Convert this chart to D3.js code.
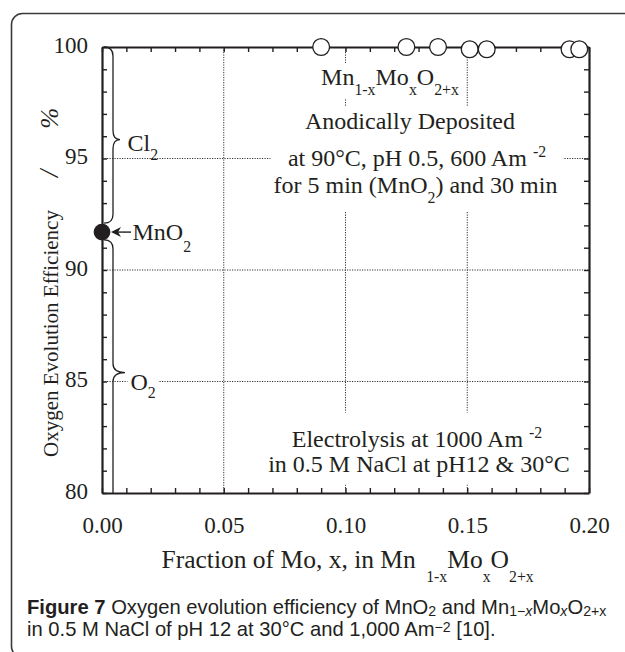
<!DOCTYPE html>
<html>
<head>
<meta charset="utf-8">
<script src="https://cdn.jsdelivr.net/npm/d3@7"></script>
<style>
  html, body { margin: 0; padding: 0; background: #fff; }
  svg { display: block; }
  text { fill: #231f20; }
</style>
</head>
<body>
<svg id="chart" width="625" height="652"></svg>
<script>
// Mn(1-x)Mo(x)O(2+x) anodically deposited electrodes
const moFraction   = [0.090, 0.125, 0.138, 0.151, 0.158, 0.192, 0.196];
const moEfficiency = [100.0, 100.0, 100.0, 99.9, 99.9, 99.9, 99.9];
// plain MnO2 electrode
const mnO2Fraction   = [0.000];
const mnO2Efficiency = [91.7];

// axis ticks
const xMajorTicks  = [0.00, 0.05, 0.10, 0.15, 0.20];
const xTickLabels  = ["0.00", "0.05", "0.10", "0.15", "0.20"];
const yMajorTicks  = [80, 85, 90, 95, 100];
const yTickLabels  = ["80", "85", "90", "95", "100"];
const xGridLines   = [0.05, 0.10, 0.15];
const yGridLines   = [85, 90, 95];

const SERIF = '"Liberation Serif", "Times New Roman", serif';
const SANS  = '"Liberation Sans", Arial, sans-serif';
const INK = "#231f20";

const svg = d3.select("#chart");

const plot = { left: 102, right: 589, top: 47, bottom: 493 };
const x = d3.scaleLinear().domain([0, 0.2]).range([plot.left, plot.right]);
const y = d3.scaleLinear().domain([80, 100]).range([plot.bottom, plot.top]);

// outer rounded frame of the figure panel
svg.append("rect")
  .attr("x", 11.5).attr("y", 13.5)
  .attr("width", 720).attr("height", 644)
  .attr("rx", 11).attr("ry", 11)
  .attr("fill", "none").attr("stroke", "#3a3a3a").attr("stroke-width", 1.6);

// rich text helper: parts = [{t, size, shift, weight, style, dx}]
function rich(sel, parts, base) {
  let prev = 0;
  parts.forEach(p => {
    const shift = (p.shift || 0);
    const ts = sel.append("tspan")
      .text(p.t)
      .attr("font-size", base * (p.size || 1))
      .attr("dy", shift - prev);
    if (p.weight) ts.attr("font-weight", p.weight);
    if (p.style) ts.attr("font-style", p.style);
    if (p.dx) ts.attr("dx", p.dx);
    prev = shift;
  });
  return sel;
}

// dotted grid
const grid = svg.append("g")
  .attr("stroke", "#333").attr("stroke-width", 1)
  .attr("stroke-dasharray", "1.2,1.3").attr("fill", "none");
grid.selectAll("line.gx").data(xGridLines).join("line")
  .attr("x1", d => x(d)).attr("x2", d => x(d))
  .attr("y1", plot.top).attr("y2", plot.bottom);
grid.selectAll("line.gy").data(yGridLines).join("line")
  .attr("y1", d => y(d)).attr("y2", d => y(d))
  .attr("x1", plot.left).attr("x2", plot.right);

// annotation layer (white boxes knock out the grid behind the text)
const ann = svg.append("g").attr("font-family", SERIF).attr("fill", INK);

function boxed(buildFn, pad) {
  const g = ann.append("g");
  const bg = g.append("rect").attr("fill", "#fff");
  const t = g.append("g");
  buildFn(t);
  const bb = t.node().getBBox();
  bg.attr("x", bb.x - pad[3]).attr("y", bb.y - pad[0])
    .attr("width", bb.width + pad[1] + pad[3])
    .attr("height", bb.height + pad[0] + pad[2]);
  return g;
}

const F = 24, S = 0.66;

boxed(t => {
  rich(t.append("text").attr("x", 390).attr("y", 85).attr("text-anchor", "middle"), [
    { t: "Mn" }, { t: "1-x", size: S, shift: 10 },
    { t: "Mo" }, { t: "x", size: S, shift: 10 },
    { t: "O" }, { t: "2+x", size: S, shift: 10 }
  ], F);
}, [1, 4, 1, 4]);

boxed(t => {
  t.append("text").attr("x", 410).attr("y", 128.5).attr("text-anchor", "middle")
    .attr("font-size", F).text("Anodically Deposited");
  rich(t.append("text").attr("x", 417).attr("y", 165.5).attr("text-anchor", "middle"), [
    { t: "at 90°C, pH 0.5, 600 Am " }, { t: "-2", size: S, shift: -9 }
  ], F);
  rich(t.append("text").attr("x", 415.5).attr("y", 193).attr("text-anchor", "middle"), [
    { t: "for 5 min (MnO" }, { t: "2", size: S, shift: 10 }, { t: ") and 30 min" }
  ], F);
}, [1, 6, 6, 3]);

boxed(t => {
  rich(t.append("text").attr("x", 417).attr("y", 446.5).attr("text-anchor", "middle"), [
    { t: "Electrolysis at 1000 Am " }, { t: "-2", size: S, shift: -9 }
  ], F);
  t.append("text").attr("x", 419).attr("y", 471.5).attr("text-anchor", "middle")
    .attr("font-size", F).text("in 0.5 M NaCl at pH12 & 30°C");
}, [11, 6, 8, 4]);

// gas labels beside the braces
rich(ann.append("text").attr("x", 127.5).attr("y", 151), [
  { t: "Cl" }, { t: "2", size: S, shift: 9 }
], F);
boxed(t => {
  rich(t.append("text").attr("x", 130.5).attr("y", 390), [
    { t: "O" }, { t: "2", size: S, shift: 8 }
  ], F);
}, [-4, 3, -4, 3]);

// MnO2 pointer label
rich(ann.append("text").attr("x", 132.5).attr("y", 239.5), [
  { t: "MnO" }, { t: "2", size: S, shift: 12 }
], F);

// curly braces along the left axis
function brace(y1, yTip, y2, xb, xt, r) {
  const p = d3.path();
  p.moveTo(xb - 9, y1);
  p.quadraticCurveTo(xb, y1, xb, y1 + r);
  p.lineTo(xb, yTip - r);
  p.quadraticCurveTo(xb, yTip, xt, yTip);
  p.quadraticCurveTo(xb, yTip, xb, yTip + r);
  p.lineTo(xb, y2 - r);
  p.quadraticCurveTo(xb, y2, xb - 9, y2);
  return p.toString();
}
function braceOpen(y1, yTip, yEnd, xb, xt, r) {
  const p = d3.path();
  p.moveTo(xb - 9, y1);
  p.quadraticCurveTo(xb, y1, xb, y1 + r);
  p.lineTo(xb, yTip - r);
  p.quadraticCurveTo(xb, yTip, xt, yTip);
  p.quadraticCurveTo(xb, yTip, xb, yTip + r);
  p.lineTo(xb, yEnd);
  return p.toString();
}
const braceG = svg.append("g").attr("fill", "none").attr("stroke", INK).attr("stroke-width", 1.3);
braceG.append("path").attr("d", brace(y(100), y(95.85), y(92.1), 113, 120, 9));
braceG.append("path").attr("d", braceOpen(y(91.35), y(85.4), y(80), 113, 125, 9));

// axes: inward minor ticks on all four sides, labels on left and bottom
function styleAxis(g) {
  g.select(".domain").attr("stroke", INK).attr("stroke-width", 2.2);
  g.selectAll(".tick line").attr("stroke", INK).attr("stroke-width", 1.4);
}
const xMinor = d3.range(0, 21).map(i => i / 100);
const yMinor = d3.range(80, 101);

svg.append("g").attr("transform", `translate(0,${plot.bottom})`)
  .call(d3.axisBottom(x).tickValues(xMinor).tickSize(-5).tickSizeOuter(0).tickFormat(""))
  .call(styleAxis);
svg.append("g").attr("transform", `translate(0,${plot.top})`)
  .call(d3.axisTop(x).tickValues(xMinor).tickSize(-5).tickSizeOuter(0).tickFormat(""))
  .call(styleAxis);
svg.append("g").attr("transform", `translate(${plot.left},0)`)
  .call(d3.axisLeft(y).tickValues(yMinor).tickSize(-5).tickSizeOuter(0).tickFormat(""))
  .call(styleAxis);
svg.append("g").attr("transform", `translate(${plot.right},0)`)
  .call(d3.axisRight(y).tickValues(yMinor).tickSize(-5).tickSizeOuter(0).tickFormat(""))
  .call(styleAxis);

const xLab = svg.append("g").attr("transform", `translate(0,${plot.bottom})`)
  .call(d3.axisBottom(x).tickValues(xMajorTicks).tickSize(0).tickPadding(24)
    .tickFormat((d, i) => xTickLabels[i]));
xLab.select(".domain").remove();
const yLab = svg.append("g").attr("transform", `translate(${plot.left},0)`)
  .call(d3.axisLeft(y).tickValues(yMajorTicks).tickSize(0).tickPadding(14)
    .tickFormat((d, i) => yTickLabels[i]));
yLab.select(".domain").remove();
[xLab, yLab].forEach(g => g.selectAll("text")
  .attr("font-family", SERIF).attr("font-size", 23).attr("fill", INK));
yLab.selectAll("text").attr("dy", "0.22em");

// axis titles
rich(svg.append("text").attr("font-family", SERIF).attr("x", 161.5).attr("y", 568), [
  { t: "Fraction of Mo, x, in Mn " }, { t: "1-x", size: 0.62, shift: 14, dx: 4 },
  { t: "Mo" }, { t: "x", size: 0.62, shift: 14 },
  { t: "O" }, { t: "2+x", size: 0.62, shift: 14 }
], 25.5);

rich(svg.append("text").attr("font-family", SERIF)
  .attr("transform", "translate(58,457) rotate(-90)"), [
  { t: "Oxygen Evolution Efficiency" },
  { t: "/", dx: 33, size: 1.25, style: "italic" }, { t: "%", dx: 41, size: 1.2, style: "italic" }
], 21);

// arrow from label to MnO2 point
const arrowY = y(mnO2Efficiency[0]);
svg.append("line")
  .attr("x1", 131).attr("x2", 114).attr("y1", arrowY).attr("y2", arrowY)
  .attr("stroke", INK).attr("stroke-width", 1.4);
svg.append("path")
  .attr("d", `M${x(0) + 9},${arrowY} l10,-5 l-3,5 l3,5 z`)
  .attr("fill", INK);

// data markers
svg.append("g").selectAll("circle").data(moFraction).join("circle")
  .attr("cx", d => x(d)).attr("cy", (d, i) => y(moEfficiency[i]))
  .attr("r", 8.4).attr("fill", "#fff").attr("stroke", INK).attr("stroke-width", 1.3);
svg.append("g").selectAll("circle").data(mnO2Fraction).join("circle")
  .attr("cx", d => x(d)).attr("cy", (d, i) => y(mnO2Efficiency[i]))
  .attr("r", 8.4).attr("fill", INK);

// figure caption, scaled so the first line spans the panel width
const capG = svg.append("g").attr("font-family", SANS).attr("fill", INK);
const cap1 = [
  { t: "Figure 7", weight: 700 },
  { t: " Oxygen evolution efficiency of MnO" }, { t: "2", size: 0.7, shift: 2 },
  { t: " and Mn" }, { t: "1\u2212", size: 0.7, shift: 2 }, { t: "x", size: 0.7, shift: 2, style: "italic" },
  { t: "Mo" }, { t: "x", size: 0.7, shift: 2, style: "italic" },
  { t: "O" }, { t: "2+x", size: 0.7, shift: 2 }
];
const cap2 = [
  { t: "in 0.5 M NaCl of pH 12 at 30°C and 1,000 Am" }, { t: "\u22122", size: 0.7, shift: -4 },
  { t: " [10]." }
];
function drawCaption(base) {
  capG.selectAll("*").remove();
  const l1 = rich(capG.append("text").attr("x", 27).attr("y", 614), cap1, base);
  rich(capG.append("text").attr("x", 27).attr("y", 636), cap2, base);
  return l1.node().getBBox().width;
}
const w0 = drawCaption(15);
drawCaption(15 * 581 / w0);
</script>
</body>
</html>
